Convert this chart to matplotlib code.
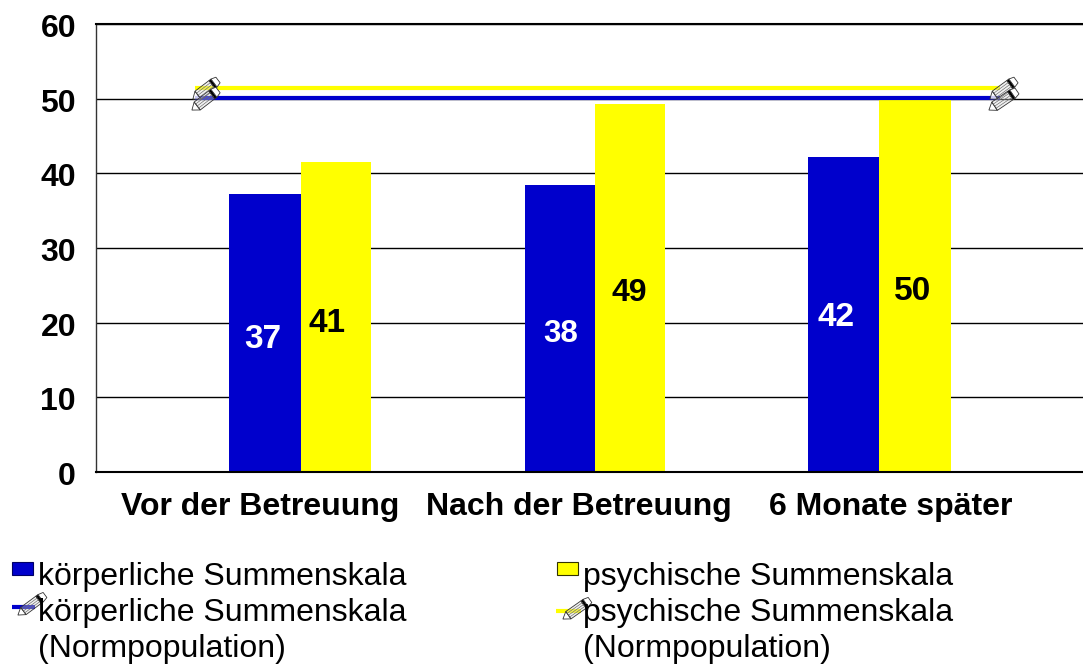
#!/usr/bin/python

import matplotlib
matplotlib.use('Agg')
import matplotlib.pyplot as plt
import numpy as np
from matplotlib.patches import Polygon, Rectangle
from matplotlib.transforms import Affine2D

W, H = 1083, 664

categories = ['Vor der Betreuung', 'Nach der Betreuung', '6 Monate später']
koerperlich = [37.2, 38.4, 42.2]
psychisch = [41.5, 49.3, 50.0]
koerperlich_labels = ['37', '38', '42']
psychisch_labels = ['41', '49', '50']
koerperlich_norm = [50.1, 50.1]
psychisch_norm = [51.4, 51.4]
yticks = [0, 10, 20, 30, 40, 50, 60]

legend_body = 'körperliche Summenskala'
legend_psych = 'psychische Summenskala'
legend_norm = '(Normpopulation)'

BLUE = '#0000cc'
YELLOW = '#ffff00'

plt.rcParams['font.family'] = ['Liberation Sans', 'DejaVu Sans']

# everything is laid out in picture pixels, the source chart is irregular
left_px = [229, 525, 808]
mid_px = [301, 595, 879]
right_px = [371, 665, 951]
label_px = [260, 579, 891]
norm_span = [195, 1000]
body_label_pos = [(263, 339, 24), (561, 334, 22.5), (836, 318, 24)]
psych_label_pos = [(327, 323, 24), (629, 293, 23), (913, 291, 24)]

fig = plt.figure(figsize=(W / 100, H / 100), dpi=100)
ax = fig.add_axes([96 / W, 1 - 472 / H, (W - 96) / W, (472 - 24) / H])
ax.set_xlim(96, W)
ax.set_ylim(0, 60)
ax.set_axisbelow(True)
ax.yaxis.grid(True, color='black', lw=1.0)
ax.set_xticks([])
ax.set_yticks(yticks)
ax.tick_params(axis='y', length=0, labelleft=False)
ax.spines['top'].set_linewidth(1.5)
ax.spines['bottom'].set_linewidth(1.5)
ax.spines['left'].set_linewidth(1.0)
ax.spines['left'].set_color('#333333')
ax.spines['right'].set_visible(False)

for i in range(3):
    ax.bar(left_px[i], koerperlich[i], width=mid_px[i] - left_px[i], align='edge', color=BLUE, zorder=2)
    ax.bar(mid_px[i], psychisch[i], width=right_px[i] - mid_px[i], align='edge', color=YELLOW, zorder=2)

ax.plot(norm_span, koerperlich_norm, color=BLUE, lw=3, solid_capstyle='butt', zorder=3)
ax.plot(norm_span, psychisch_norm, color=YELLOW, lw=3, solid_capstyle='butt', zorder=3)

# pixel overlay for labels, legend and the pencil markers
px = Affine2D().scale(1 / W, -1 / H).translate(0, 1) + fig.transFigure

for t in yticks:
    ypx = ax.transData.transform((96, t))[1]
    fig.text(76, H - ypx + 5, str(t), transform=px, fontsize=23, fontweight='bold',
             ha='right', va='center')


def pencil(tip, end, hw=5.0):
    tip = np.array(tip, dtype=float)
    end = np.array(end, dtype=float)
    u = end - tip
    L = np.hypot(*u)
    u = u / L
    n = np.array([-u[1], u[0]])

    def poly(a, b, ca, fc, lw=0.6):
        pts = [tip + u * a + n * hw * ca[0], tip + u * b + n * hw * ca[1],
               tip + u * b - n * hw * ca[1], tip + u * a - n * hw * ca[0]]
        fig.add_artist(Polygon(pts, closed=True, fc=fc, ec='#333333', lw=lw,
                               transform=px, zorder=6))

    poly(0, L * 0.2, (0.02, 1), (1, 1, 1, 0.8))
    poly(L * 0.2, L * 0.76, (1, 1), (0.85, 0.85, 0.85, 0.35))
    for f in [-0.5, 0, 0.5]:
        a = tip + u * L * 0.2 + n * hw * f
        b = tip + u * L * 0.76 + n * hw * f
        fig.add_artist(plt.Line2D([a[0], b[0]], [a[1], b[1]], color='#666666', lw=0.45,
                                  transform=px, zorder=7))
    poly(L * 0.76, L * 0.84, (1, 1), 'black')
    poly(L * 0.84, L, (1, 0.7), 'white')


for tip, end in [((193, 99), (218, 80)), ((192, 110), (218, 90)),
                 ((990, 99), (1016, 80)), ((989, 110), (1017, 91))]:
    pencil(tip, end)

for i in range(3):
    x, y, size = body_label_pos[i]
    fig.text(x, y, koerperlich_labels[i], transform=px, color='white', fontsize=size,
             fontweight='bold', ha='center', va='center')
    x, y, size = psych_label_pos[i]
    fig.text(x, y, psychisch_labels[i], transform=px, color='black', fontsize=size,
             fontweight='bold', ha='center', va='center')
    fig.text(label_px[i], 515, categories[i], transform=px, fontsize=23,
             fontweight='bold', ha='center', va='baseline')

# legend swatches
fig.add_artist(Rectangle((12, 562), 21, 13, fc=BLUE, ec='#000066', lw=0.8, transform=px))
fig.add_artist(Rectangle((557, 562), 21, 13, fc=YELLOW, ec='#333300', lw=0.8, transform=px))
fig.add_artist(plt.Line2D([12, 35], [607, 607], color=BLUE, lw=3, solid_capstyle='butt', transform=px))
fig.add_artist(plt.Line2D([556, 581], [611, 611], color=YELLOW, lw=3, solid_capstyle='butt', transform=px))
pencil((18, 615), (45, 595), hw=4.5)
pencil((563, 619), (590, 600), hw=4.5)

for x, name in [(38, legend_body), (583, legend_psych)]:
    fig.text(x, 585, name, transform=px, fontsize=23, va='baseline', zorder=8)
    fig.text(x, 621, name, transform=px, fontsize=23, va='baseline', zorder=8)
    fig.text(x, 657, legend_norm, transform=px, fontsize=23, va='baseline', zorder=8)

fig.savefig('out.png', dpi=100)
